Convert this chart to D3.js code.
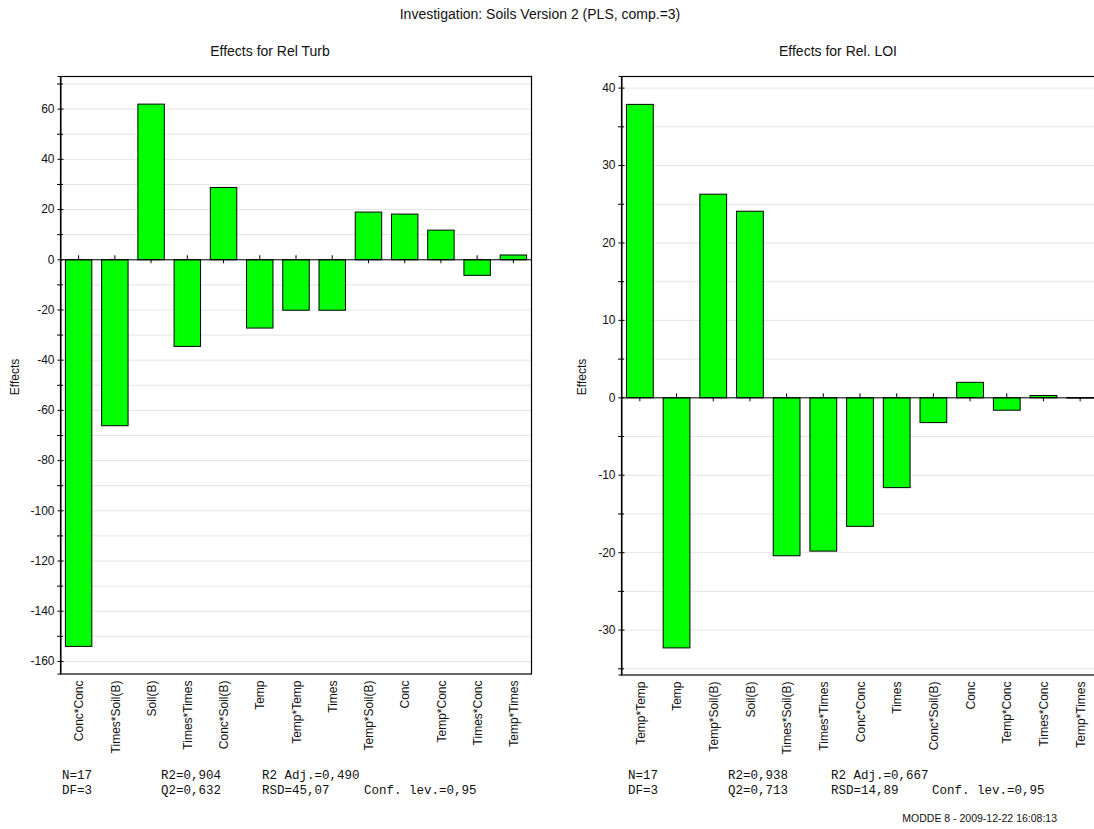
<!DOCTYPE html>
<html>
<head>
<meta charset="utf-8">
<script src="https://cdn.jsdelivr.net/npm/d3@7"></script>
<style>
  html, body { margin: 0; padding: 0; background: #fff; }
  svg { display: block; font-family: "Liberation Sans", Arial, sans-serif; }
</style>
</head>
<body>
<svg id="chart" width="1094" height="829"></svg>
<script>
// Coefficient effects, response "Rel Turb"
const turbCategories = ["Conc*Conc", "Times*Soil(B)", "Soil(B)", "Times*Times", "Conc*Soil(B)", "Temp", "Temp*Temp", "Times", "Temp*Soil(B)", "Conc", "Temp*Conc", "Times*Conc", "Temp*Times"];
const turbEffects = [-154.0, -66.1, 62.0, -34.5, 28.8, -27.2, -20.1, -20.1, 19.0, 18.2, 11.8, -6.2, 1.9];
const turbMajorTicks = [-160, -140, -120, -100, -80, -60, -40, -20, 0, 20, 40, 60];
const turbMinorTicks = [-160, -150, -140, -130, -120, -110, -100, -90, -80, -70, -60, -50, -40, -30, -20, -10, 0, 10, 20, 30, 40, 50, 60, 70];
const turbStats = [["N=17", "R2=0,904", "R2 Adj.=0,490", ""], ["DF=3", "Q2=0,632", "RSD=45,07", "Conf. lev.=0,95"]];

// Coefficient effects, response "Rel. LOI"
const loiCategories = ["Temp*Temp", "Temp", "Temp*Soil(B)", "Soil(B)", "Times*Soil(B)", "Times*Times", "Conc*Conc", "Times", "Conc*Soil(B)", "Conc", "Temp*Conc", "Times*Conc", "Temp*Times"];
const loiEffects = [37.9, -32.3, 26.3, 24.1, -20.4, -19.8, -16.6, -11.6, -3.2, 2.0, -1.6, 0.3, 0.03];
const loiMajorTicks = [-30, -20, -10, 0, 10, 20, 30, 40];
const loiMinorTicks = [-35, -30, -25, -20, -15, -10, -5, 0, 5, 10, 15, 20, 25, 30, 35, 40];
const loiStats = [["N=17", "R2=0,938", "R2 Adj.=0,667", ""], ["DF=3", "Q2=0,713", "RSD=14,89", "Conf. lev.=0,95"]];

const svg = d3.select("#chart");

svg.append("text")
  .attr("x", 540).attr("y", 19)
  .attr("text-anchor", "middle")
  .attr("font-size", 14)
  .attr("fill", "#111")
  .text("Investigation: Soils Version 2 (PLS, comp.=3)");

svg.append("text")
  .attr("x", 1057).attr("y", 822)
  .attr("text-anchor", "end")
  .attr("font-size", 10.5)
  .attr("fill", "#111")
  .text("MODDE 8 - 2009-12-22 16:08:13");

function drawPanel(opt) {
  const g = svg.append("g");
  const x = d3.scaleBand()
    .domain(opt.categories)
    .range([opt.left, opt.right])
    .paddingInner(0.27)
    .paddingOuter(0.135);
  const y = d3.scaleLinear().domain(opt.domain).range([opt.bottom, opt.top]);

  // panel title
  g.append("text")
    .attr("x", opt.titleX).attr("y", 56)
    .attr("text-anchor", "middle")
    .attr("font-size", 14)
    .attr("fill", "#111")
    .text(opt.title);

  // light horizontal grid at every minor step
  g.append("g").selectAll("line")
    .data(opt.minorTicks)
    .join("line")
    .attr("x1", opt.left).attr("x2", opt.right)
    .attr("y1", d => y(d) + 0.5).attr("y2", d => y(d) + 0.5)
    .attr("stroke", "#e4e4e4")
    .attr("stroke-width", 1);

  // bars
  const data = opt.categories.map((c, i) => ({ c, v: opt.values[i] }));
  g.append("g").selectAll("rect")
    .data(data)
    .join("rect")
    .attr("x", d => x(d.c) + 0.5)
    .attr("y", d => Math.min(y(d.v), y(0)) + 0.5)
    .attr("width", x.bandwidth())
    .attr("height", d => Math.max(Math.abs(y(d.v) - y(0)), 0.5))
    .attr("fill", "#00ff00")
    .attr("stroke", "#000")
    .attr("stroke-width", 1);

  // zero line with category ticks pointing away from the bar
  g.append("line")
    .attr("x1", opt.left).attr("x2", opt.right)
    .attr("y1", y(0) + 0.5).attr("y2", y(0) + 0.5)
    .attr("stroke", "#000");
  g.append("g").selectAll("line")
    .data(data)
    .join("line")
    .attr("x1", d => x(d.c) + x.bandwidth() / 2 + 0.5)
    .attr("x2", d => x(d.c) + x.bandwidth() / 2 + 0.5)
    .attr("y1", y(0))
    .attr("y2", d => y(0) + (d.v >= 0 ? 4 : -4))
    .attr("stroke", "#000");

  // frame
  g.append("rect")
    .attr("x", opt.left + 0.5).attr("y", opt.top + 0.5)
    .attr("width", opt.right - opt.left).attr("height", opt.bottom - opt.top)
    .attr("fill", "none")
    .attr("stroke", "#000")
    .attr("stroke-width", 1.2);

  // y axis: major ticks with labels, minor ticks without
  const yAxis = d3.axisLeft(y)
    .tickValues(opt.majorTicks)
    .tickSize(3)
    .tickPadding(3)
    .tickFormat(d => String(d));
  const ag = g.append("g").attr("transform", `translate(${opt.left + 0.5},0)`).call(yAxis);
  ag.select(".domain").attr("stroke", "#000");
  ag.selectAll(".tick line").attr("x2", -3).attr("x1", 3).attr("stroke", "#000");
  ag.selectAll(".tick text").attr("font-size", 12).attr("fill", "#111")
    .attr("font-family", "Liberation Sans, Arial, sans-serif");
  g.append("g").selectAll("line")
    .data(opt.minorTicks.filter(t => !opt.majorTicks.includes(t)))
    .join("line")
    .attr("x1", opt.left - 3).attr("x2", opt.left + 3)
    .attr("y1", d => y(d) + 0.5).attr("y2", d => y(d) + 0.5)
    .attr("stroke", "#000");

  // y axis title
  g.append("text")
    .attr("transform", `translate(${opt.yTitleX},377) rotate(-90)`)
    .attr("text-anchor", "middle")
    .attr("font-size", 12)
    .attr("fill", "#111")
    .text("Effects");

  // category labels, vertical, hanging below the frame
  g.append("g").selectAll("text")
    .data(opt.categories)
    .join("text")
    .attr("transform", d => `translate(${x(d) + x.bandwidth() / 2 + 1},${opt.bottom + 7}) rotate(-90)`)
    .attr("text-anchor", "end")
    .attr("dy", "0.35em")
    .attr("font-size", 12)
    .attr("fill", "#111")
    .text(d => d);

  // fit statistics
  opt.stats.forEach((row, r) => {
    row.forEach((s, c) => {
      g.append("text")
        .attr("x", opt.statsX[c]).attr("y", 779 + r * 15)
        .attr("font-family", "Liberation Mono, Courier New, monospace")
        .attr("font-size", 12.5)
        .attr("fill", "#111")
        .text(s);
    });
  });
}

drawPanel({
  title: "Effects for Rel Turb", titleX: 270,
  categories: turbCategories, values: turbEffects,
  majorTicks: turbMajorTicks, minorTicks: turbMinorTicks,
  domain: [-165, 73],
  left: 60, right: 531, top: 76, bottom: 673.5,
  yTitleX: 19,
  stats: turbStats, statsX: [62, 161, 262, 364]
});

drawPanel({
  title: "Effects for Rel. LOI", titleX: 838,
  categories: loiCategories, values: loiEffects,
  majorTicks: loiMajorTicks, minorTicks: loiMinorTicks,
  domain: [-35.8, 41.5],
  left: 621, right: 1098, top: 76, bottom: 674.5,
  yTitleX: 586,
  stats: loiStats, statsX: [628, 728, 831, 932]
});
</script>
</body>
</html>
